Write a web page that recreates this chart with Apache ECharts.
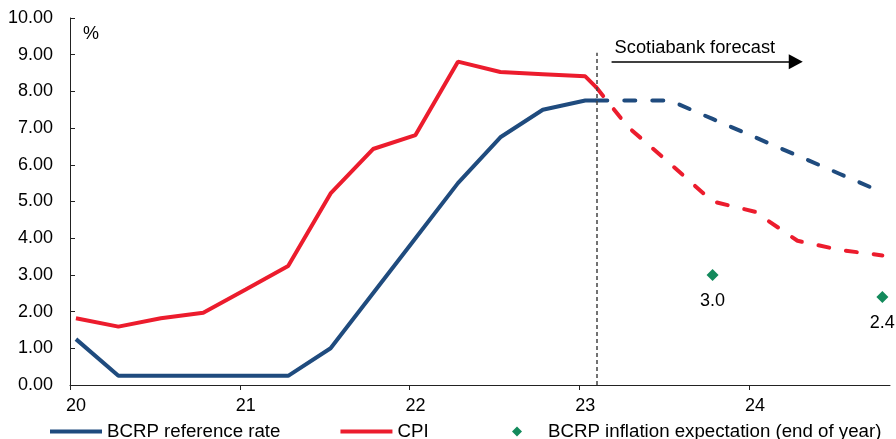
<!DOCTYPE html>
<html>
<head>
<meta charset="utf-8">
<script src="https://cdn.jsdelivr.net/npm/echarts@6/dist/echarts.min.js"></script>
<style>
  html, body { margin: 0; padding: 0; background: #fff; }
  #main { width: 896px; height: 439px; }
</style>
</head>
<body>
<div id="main"></div>
<script>
// quarterly data, actual then Scotiabank forecast
var actualPeriods = ['20Q1', '20Q2', '20Q3', '20Q4', '21Q1', '21Q2', '21Q3', '21Q4',
                     '22Q1', '22Q2', '22Q3', '22Q4', '23Q1'];
var bcrpActual = [1.25, 0.25, 0.25, 0.25, 0.25, 0.25, 1.00, 2.50, 4.00, 5.50, 6.75, 7.50, 7.75];
var cpiActual = [1.82, 1.59, 1.82, 1.97, 2.60, 3.24, 5.22, 6.43, 6.81, 8.81, 8.53, 8.47, 8.41];

// forecast starts here (last observed month)
var forecastStart = 23.10;
var bcrpAtStart = 7.75;
var cpiAtStart = 8.11;

var forecastPeriods = ['23Q2', '23Q3', '23Q4', '24Q1', '24Q2', '24Q3', '24Q4'];
var bcrpForecast = [7.75, 7.75, 7.25, 6.75, 6.25, 5.75, 5.25];
var cpiForecast = [7.04, 6.03, 5.00, 4.72, 3.93, 3.68, 3.53];

var expectPeriods = ['23Q4', '24Q4'];
var expectValues = [3.0, 2.4];

var yearTicks = [20, 21, 22, 23, 24];

var BLUE = '#1f4b7e';
var RED = '#ec1c2d';
var GREEN = '#138a5c';

function toX(p) { // '21Q3' -> 21.535
    return parseInt(p.slice(0, 2), 10) + (parseInt(p.charAt(3), 10) - 1) / 4 + 0.035;
}
function pairs(periods, values) {
    return periods.map(function (p, i) { return [toX(p), values[i]]; });
}

var dom = document.getElementById('main');
var myChart = echarts.init(dom);
var option = null;

var fs = 18;
var dashed = { width: 4, type: [11, 17], cap: 'round' };
var lineIcon = 'path://M0,0L52,0L52,4L0,4Z';
var diamondIcon = 'path://M5,0L10,5L5,10L0,5Z';
var legendBase = {
    top: 417,
    itemWidth: 52,
    itemHeight: 10,
    itemGap: 60,
    symbolKeepAspect: true,
    textStyle: { fontSize: 18.7, color: '#000' }
};

option = {
    animation: false,
    textStyle: { fontFamily: 'Liberation Sans, Arial, sans-serif' },
    grid: { left: 70, right: 6, top: 18, bottom: 54 },
    legend: [
        Object.assign({
            left: 45,
            data: [
                { name: 'BCRP reference rate', icon: lineIcon },
                { name: 'CPI', icon: lineIcon }
            ]
        }, legendBase),
        Object.assign({
            left: 507,
            data: [{ name: 'BCRP inflation expectation (end of year)', icon: diamondIcon }]
        }, legendBase)
    ],
    xAxis: {
        type: 'value',
        min: 20,
        max: 24.83,
        interval: 1,
        splitLine: { show: false },
        axisLine: { lineStyle: { color: '#222', width: 1 } },
        axisTick: { length: 5, customValues: yearTicks, lineStyle: { color: '#222' } },
        axisLabel: {
            customValues: yearTicks,
            fontSize: fs,
            color: '#000',
            margin: 12,
            padding: [0, 0, 0, 12],
            formatter: function (v) { return Math.abs(v - Math.round(v)) < 1e-6 ? String(Math.round(v)) : ''; }
        }
    },
    yAxis: {
        type: 'value',
        min: 0,
        max: 10,
        interval: 1,
        splitLine: { show: false },
        axisLine: { show: true, lineStyle: { color: '#222', width: 1 } },
        axisTick: { show: true, inside: true, length: 5, lineStyle: { color: '#222' } },
        axisLabel: {
            fontSize: fs,
            color: '#000',
            margin: 17,
            formatter: function (v) { return v.toFixed(2); }
        }
    },
    graphic: [{
        type: 'text',
        left: 83,
        top: 25,
        style: { text: '%', fontSize: fs, fill: '#000', fontFamily: 'Liberation Sans, Arial, sans-serif' }
    }],
    series: [
        {
            name: 'BCRP reference rate',
            type: 'line',
            symbol: 'none',
            z: 3,
            lineStyle: { color: BLUE, width: 4 },
            itemStyle: { color: BLUE },
            data: pairs(actualPeriods, bcrpActual).concat([[forecastStart, bcrpAtStart]]),
            markLine: {
                silent: true,
                symbol: 'none',
                label: { show: false },
                lineStyle: { color: '#444', width: 1.5, type: [4, 3] },
                data: [[{ coord: [forecastStart, 0] }, { coord: [forecastStart, 9.05] }]]
            }
        },
        {
            name: 'CPI',
            type: 'line',
            symbol: 'none',
            z: 3,
            lineStyle: { color: RED, width: 4 },
            itemStyle: { color: RED },
            data: pairs(actualPeriods, cpiActual).concat([[forecastStart, cpiAtStart]])
        },
        {
            name: 'BCRP forecast',
            type: 'line',
            symbol: 'none',
            z: 2,
            lineStyle: Object.assign({ color: BLUE }, dashed),
            data: [[forecastStart, bcrpAtStart]].concat(pairs(forecastPeriods, bcrpForecast))
        },
        {
            name: 'CPI forecast',
            type: 'line',
            symbol: 'none',
            z: 2,
            lineStyle: Object.assign({ color: RED }, dashed),
            data: [[forecastStart, cpiAtStart]].concat(pairs(forecastPeriods, cpiForecast)),
            markLine: {
                silent: true,
                symbol: ['none', 'triangle'],
                symbolSize: [15, 14],
                lineStyle: { color: '#000', width: 1.5, type: 'solid' },
                label: {
                    show: true,
                    position: 'insideStartTop',
                    distance: [3, 5],
                    formatter: 'Scotiabank forecast',
                    fontSize: 18.3,
                    color: '#000'
                },
                data: [[{ coord: [23.19, 8.81] }, { coord: [24.275, 8.81] }]]
            }
        },
        {
            name: 'BCRP inflation expectation (end of year)',
            type: 'scatter',
            symbol: 'diamond',
            symbolSize: 12,
            z: 4,
            itemStyle: { color: GREEN, opacity: 1 },
            label: {
                show: true,
                position: 'bottom',
                distance: 11,
                fontSize: fs,
                color: '#000',
                formatter: function (p) { return p.value[1].toFixed(1); }
            },
            data: pairs(expectPeriods, expectValues)
        }
    ]
};

if (option && typeof option === "object") {
    myChart.setOption(option, true);
}
</script>
</body>
</html>
